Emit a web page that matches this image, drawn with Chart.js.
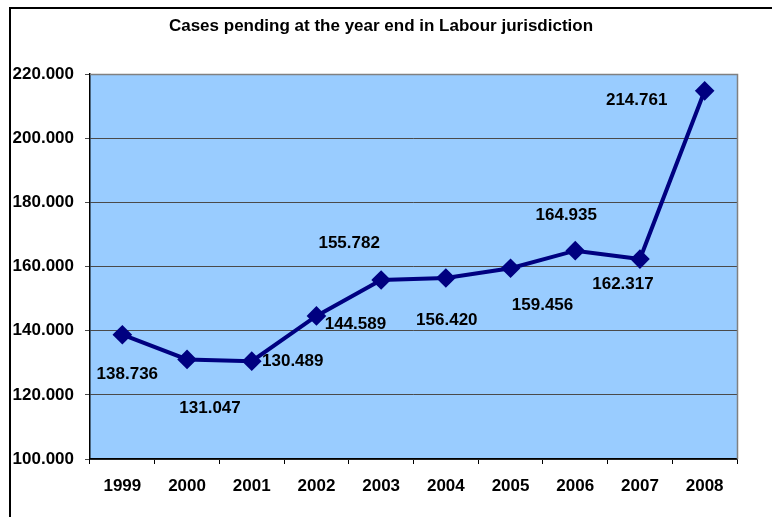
<!DOCTYPE html>
<html>
<head>
<meta charset="utf-8">
<script src="https://cdn.jsdelivr.net/npm/chart.js@4"></script>
<style>
  html, body { margin: 0; padding: 0; background: #fff; }
  #wrap { width: 772px; height: 517px; }
</style>
</head>
<body>
<div id="wrap"><canvas id="chart" width="772" height="517"></canvas></div>
<script>
// --- data ---
const years = ['1999', '2000', '2001', '2002', '2003', '2004', '2005', '2006', '2007', '2008'];
const pendingCases = [138736, 131047, 130489, 144589, 155782, 156420, 159456, 164935, 162317, 214761];
const yTicks = [100000, 120000, 140000, 160000, 180000, 200000, 220000];
const chartTitle = 'Cases pending at the year end in Labour jurisdiction';

// where each value label sits relative to its point (px)
const labelOffsets = [
    [5, 40], [23, 49], [41, 0], [39, 8], [-32, -37],
    [1, 42], [32, 37], [-9, -35], [-17, 25], [-68, 10]
];

const FONT = 'bold 17px "Liberation Sans", Arial, sans-serif';

function fmt(n) {
    return String(n).replace(/\B(?=(\d{3})+(?!\d))/g, '.');
}

const decorPlugin = {
    id: 'decor',
    beforeDraw(chart) {
        const { ctx, chartArea: a } = chart;
        ctx.save();
        ctx.fillStyle = '#99CCFF';
        ctx.fillRect(a.left, a.top, a.right - a.left, a.bottom - a.top);
        ctx.restore();
    },
    afterDraw(chart) {
        const { ctx, chartArea: a } = chart;
        ctx.save();
        // outer frame
        ctx.strokeStyle = '#000';
        ctx.lineWidth = 2;
        ctx.strokeRect(10, 8, 900, 700);
        // plot frame top/right
        ctx.strokeStyle = '#808080';
        ctx.lineWidth = 1.5;
        ctx.beginPath();
        ctx.moveTo(a.left, a.top + 0.5);
        ctx.lineTo(a.right + 0.5, a.top + 0.5);
        ctx.lineTo(a.right + 0.5, a.bottom);
        ctx.stroke();
        // title
        ctx.fillStyle = '#000';
        ctx.font = FONT;
        ctx.textAlign = 'center';
        ctx.textBaseline = 'middle';
        ctx.fillText(chartTitle, 381, 26);
        // value labels
        const meta = chart.getDatasetMeta(0);
        meta.data.forEach((pt, i) => {
            const off = labelOffsets[i];
            ctx.fillText(fmt(pendingCases[i]), pt.x + off[0], pt.y + off[1]);
        });
        ctx.restore();
    }
};

new Chart(document.getElementById('chart'), {
    type: 'line',
    data: {
        labels: years,
        datasets: [{
            data: pendingCases,
            borderColor: '#000080',
            backgroundColor: '#000080',
            borderWidth: 4,
            pointStyle: 'rectRot',
            pointRadius: 7,
            pointHoverRadius: 7,
            tension: 0
        }]
    },
    options: {
        responsive: false,
        animation: false,
        events: [],
        layout: { padding: { top: 74, right: 35, left: 0, bottom: 0 } },
        plugins: { legend: { display: false }, title: { display: false }, tooltip: { enabled: false } },
        scales: {
            x: {
                offset: true,
                grid: { offset: true, drawOnChartArea: false, color: '#000', tickLength: 5, lineWidth: 1 },
                border: { color: '#000', width: 1.5 },
                ticks: { color: '#000', font: { family: '"Liberation Sans", Arial, sans-serif', size: 17, weight: 'bold' }, padding: 12, maxRotation: 0 },
                afterFit(s) { s.height = 58; }
            },
            y: {
                min: 100000,
                max: 220000,
                afterBuildTicks(s) { s.ticks = yTicks.map(v => ({ value: v })); },
                grid: { color: '#4a4a4a', lineWidth: 1, tickLength: 5, drawTicks: true },
                border: { color: '#000', width: 1.5 },
                ticks: { color: '#000', font: { family: '"Liberation Sans", Arial, sans-serif', size: 17, weight: 'bold' }, padding: 11, callback: v => fmt(v) },
                afterFit(s) { s.width = 90; }
            }
        }
    },
    plugins: [decorPlugin]
});
</script>
</body>
</html>
